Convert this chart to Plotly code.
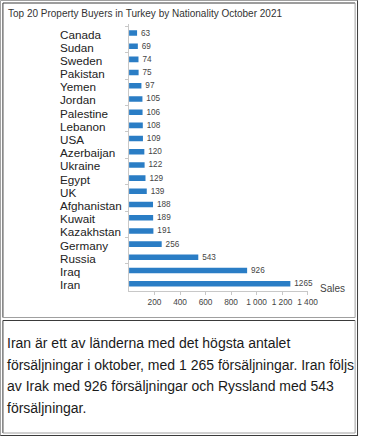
import plotly.graph_objects as go

W, H = 370, 437

countries = ["Canada", "Sudan", "Sweden", "Pakistan", "Yemen", "Jordan", "Palestine",
             "Lebanon", "USA", "Azerbaijan", "Ukraine", "Egypt", "UK", "Afghanistan",
             "Kuwait", "Kazakhstan", "Germany", "Russia", "Iraq", "Iran"]
sales = [63, 69, 74, 75, 97, 105, 106, 108, 109, 120, 122, 129, 139, 188,
         189, 191, 256, 543, 926, 1265]
x_tick_vals = [200, 400, 600, 800, 1000, 1200, 1400]
x_tick_text = ["200", "400", "600", "800", "1 000", "1 200", "1 400"]

title_text = "Top 20 Property Buyers in Turkey by Nationality October 2021"
axis_title = "Sales"
caption_lines = [
    "Iran är ett av länderna med det högsta antalet",
    "försäljningar i oktober, med 1 265 försäljningar. Iran följs",
    "av Irak med 926 försäljningar och Ryssland med 543",
    "försäljningar.",
]

FONT = "Liberation Sans, Arial, sans-serif"
DARK = "#3a3a3a"
LIGHT = "#a0a0a0"


def px(x):
    return x / W


def py(y):
    return 1 - y / H


fig = go.Figure()
fig.add_trace(go.Bar(
    x=sales, y=countries, orientation="h",
    marker=dict(color="#2a7dc5", line=dict(width=0)),
    width=0.42,
    texttemplate="\u00a0\u2009%{x}", textposition="outside",
    constraintext="none",
    textfont=dict(size=8.2, color="#444", family=FONT),
    cliponaxis=False,
    hoverinfo="x+y",
))

annotations = []
for c in countries:
    annotations.append(dict(x=px(59.5), xref="paper", y=c, yref="y", text=c,
                            showarrow=False, xanchor="left", yanchor="middle", yshift=-1,
                            font=dict(size=11.7, color="#222", family=FONT)))
annotations.append(dict(x=px(6), y=py(13), xref="paper", yref="paper", text=title_text,
                        showarrow=False, xanchor="left", yanchor="middle",
                        font=dict(size=10, color="#333", family=FONT)))
annotations.append(dict(x=px(343), y=py(288.5), xref="paper", yref="paper", text=axis_title,
                        showarrow=False, xanchor="center", yanchor="middle",
                        font=dict(size=10, color="#444", family=FONT)))
for i, line in enumerate(caption_lines):
    annotations.append(dict(x=px(5), y=py(343 + i * 21.5), xref="paper", yref="paper",
                            text=line, showarrow=False, xanchor="left", yanchor="middle",
                            font=dict(size=14, color="#1a1a1a", family=FONT)))


def seg(x0, y0, x1, y1, color):
    return dict(type="line", xref="paper", yref="paper", x0=px(x0), x1=px(x1),
                y0=py(y0), y1=py(y1), line=dict(color=color, width=1))


shapes = [
    # table frame (outset)
    seg(0.5, 0.5, 369, 0.5, LIGHT), seg(0.5, 0.5, 0.5, 436, LIGHT),
    seg(368.5, 0.5, 368.5, 436, DARK), seg(0.5, 435.5, 369, 435.5, DARK),
    # top cell (inset)
    seg(3, 3, 366, 3, DARK), seg(3, 3, 3, 317.5, DARK),
    seg(366, 3, 366, 317.5, LIGHT), seg(3, 317.5, 366, 317.5, LIGHT),
    # bottom cell (inset)
    seg(3, 320.5, 366, 320.5, DARK), seg(3, 320.5, 3, 433, DARK),
    seg(366, 320.5, 366, 433, LIGHT), seg(3, 433, 366, 433, LIGHT),
]

fig.update_layout(
    width=W, height=H,
    margin=dict(l=0, r=0, t=0, b=0),
    paper_bgcolor="white", plot_bgcolor="white",
    showlegend=False,
    font=dict(family=FONT),
    xaxis=dict(domain=[px(133), px(317)], range=[0, 1400],
               tickvals=x_tick_vals, ticktext=x_tick_text,
               tickfont=dict(size=8.3, color="#444", family=FONT),
               showgrid=False, zeroline=False,
               showline=True, linecolor="#c8c8c8", linewidth=1,
               ticks="outside", ticklen=3, tickcolor="#c8c8c8", fixedrange=True),
    yaxis=dict(domain=[py(291.2), py(23.5)], autorange="reversed",
               type="category", categoryorder="array", categoryarray=countries,
               showticklabels=False, showgrid=False, zeroline=False,
               showline=True, linecolor="#c8c8c8", linewidth=1,
               ticks="outside", ticklen=3, tickcolor="#c8c8c8",
               tickson="boundaries", fixedrange=True),
    annotations=annotations,
    shapes=shapes,
)

fig.write_html("out.html", config={"displayModeBar": False},
               post_script="document.body.style.margin='0';document.body.style.overflow='hidden';")
